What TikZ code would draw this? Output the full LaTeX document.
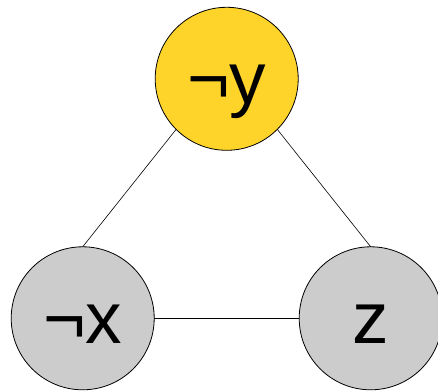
\documentclass[tikz,border=0pt]{standalone}
\usepackage{fontspec}
\setmainfont{Liberation Sans}
\definecolor{goldfill}{HTML}{FFD42A}
\definecolor{grayfill}{HTML}{CCCCCC}
\begin{document}
\begin{tikzpicture}[x=1pt,y=1pt,
  var/.style={circle,draw=black,line width=0.8pt,minimum size=143pt,inner sep=0pt,outer sep=0pt,
    font=\fontsize{73}{73}\selectfont,text height=50pt,text depth=0pt},
  edge/.style={draw=black,line width=0.6pt}]
\useasboundingbox (0,0) rectangle (438,391);
\clip (0,0) rectangle (438,391);
\fill[white] (0,0) rectangle (438,391);
\node[var,fill=goldfill] (y) at (226.7,312.2) {¬y};
\node[var,fill=grayfill] (x) at (82.7,72.7) {¬x};
\node[var,fill=grayfill] (z) at (370.7,72.7) {z};
\draw[edge] (y.south west) -- (x.north);
\draw[edge] (y.south east) -- (z.north);
\draw[edge] (x.east) -- (z.west);
\end{tikzpicture}
\end{document}
